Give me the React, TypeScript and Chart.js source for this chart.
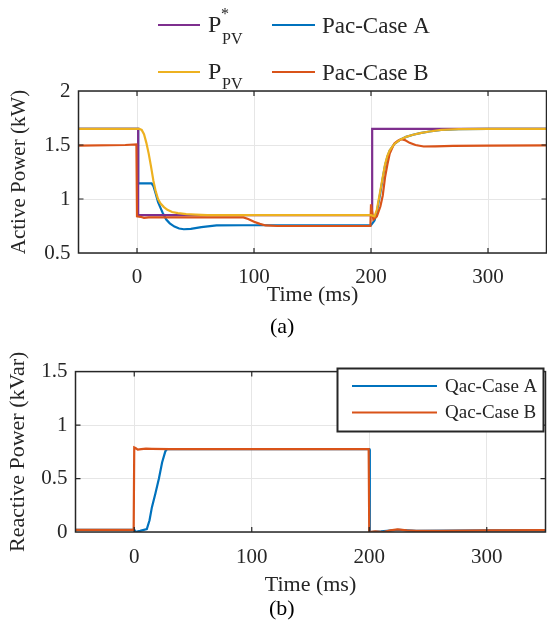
import React, { useEffect, useRef } from "react";
import { Chart, registerables } from "chart.js";

Chart.register(...registerables);

// ---------- data ----------
const xTickValues = [0, 100, 200, 300];
const yTickValuesTop = [0.5, 1, 1.5, 2];
const yTickValuesBottom = [0, 0.5, 1, 1.5];

// P*_PV reference (purple)
const pRefT = [-50, 1, 1, 201, 201, 350];
const pRefV = [1.65, 1.65, 0.85, 0.85, 1.65, 1.65];

// P_PV (yellow)
const pPvT = [-50, 2, 4, 6, 8, 10, 12, 14, 16, 18, 20, 23, 26, 30, 35, 42, 50, 60, 200, 203, 205, 208, 210, 212, 214, 216, 220, 225, 230, 236, 242, 250, 260, 275, 300, 350];
const pPvV = [1.65, 1.65, 1.64, 1.6, 1.52, 1.42, 1.3, 1.17, 1.07, 1.0, 0.96, 0.925, 0.9, 0.88, 0.87, 0.86, 0.855, 0.85, 0.85, 0.84, 0.9, 1.08, 1.2, 1.32, 1.4, 1.45, 1.51, 1.55, 1.575, 1.595, 1.61, 1.625, 1.64, 1.647, 1.65, 1.65];

// Pac - Case A (blue)
const pacAT = [-50, 1, 1, 12.5, 14, 16, 18, 20, 22, 25, 28, 32, 36, 40, 46, 55, 68, 90, 200, 203, 205, 208, 210, 212, 214, 216, 220, 225, 230, 236, 242, 250, 260, 275, 300, 350];
const pacAV = [1.65, 1.65, 1.145, 1.145, 1.12, 1.05, 0.97, 0.92, 0.87, 0.81, 0.775, 0.745, 0.727, 0.72, 0.724, 0.74, 0.755, 0.757, 0.757, 0.8, 0.88, 1.06, 1.19, 1.31, 1.39, 1.45, 1.51, 1.55, 1.575, 1.595, 1.61, 1.625, 1.64, 1.647, 1.65, 1.65];

// Pac - Case B (orange)
const pacBT = [-50, -10, -0.5, 0, 3, 6, 10, 20, 50, 91, 95, 100, 105, 110, 120, 199.5, 200, 202, 205, 208, 210, 212, 214, 216, 218, 220, 223, 226, 229, 233, 238, 245, 255, 270, 300, 350];
const pacBV = [1.495, 1.5, 1.505, 0.84, 0.835, 0.825, 0.83, 0.83, 0.83, 0.83, 0.815, 0.79, 0.77, 0.755, 0.75, 0.75, 0.95, 0.81, 0.84, 0.93, 1.03, 1.2, 1.32, 1.42, 1.47, 1.515, 1.54, 1.553, 1.545, 1.52, 1.5, 1.486, 1.488, 1.492, 1.495, 1.497];

// Qac - Case A (blue)
const qacAT = [-50, 0, 0.5, 5, 10.7, 13, 15, 18, 21, 23.7, 26.5, 28, 40, 200, 200.5, 210, 225, 240, 300, 350];
const qacAV = [0.02, 0.02, 0.0, 0.01, 0.027, 0.11, 0.23, 0.36, 0.5, 0.65, 0.756, 0.775, 0.775, 0.775, 0.0, 0.005, 0.02, 0.01, 0.015, 0.015];

// Qac - Case B (orange)
const qacBT = [-50, -0.5, 0, 1, 3, 6, 10, 15, 30, 100, 199.5, 200, 205, 212, 218, 224, 232, 240, 260, 300, 350];
const qacBV = [0.02, 0.02, 0.79, 0.785, 0.77, 0.775, 0.78, 0.778, 0.775, 0.775, 0.775, 0.0, 0.005, 0.0, 0.015, 0.025, 0.015, 0.01, 0.01, 0.015, 0.018];

// ---------- styles ----------
const FONT = "'Liberation Serif', 'Times New Roman', serif";
const TXT = "#262626";
const BLUE = "#0072BD";
const ORANGE = "#D95319";
const YELLOW = "#EDB120";
const PURPLE = "#7E2F8E";
const GRID = "#e6e6e6";

const TOP_H = 345;
const BOT_TOP = 351;
const BOT_H = 621 - BOT_TOP;

const pts = (t: number[], v: number[]) => t.map((x, i) => ({ x, y: v[i] }));

const framePlugin = {
  id: "frame",
  afterDatasetsDraw(chart: any) {
    const { ctx, chartArea: a, scales } = chart;
    ctx.save();
    ctx.strokeStyle = TXT;
    ctx.lineWidth = 1.5;
    ctx.strokeRect(a.left, a.top, a.right - a.left, a.bottom - a.top);
    ctx.lineWidth = 1.2;
    const tl = 5;
    ctx.beginPath();
    scales.x.ticks.forEach((t: any) => {
      const px = scales.x.getPixelForValue(t.value);
      if (px <= a.left + 1 || px >= a.right - 1) return;
      ctx.moveTo(px, a.bottom);
      ctx.lineTo(px, a.bottom - tl);
      ctx.moveTo(px, a.top);
      ctx.lineTo(px, a.top + tl);
    });
    scales.y.ticks.forEach((t: any) => {
      const py = scales.y.getPixelForValue(t.value);
      if (py <= a.top + 1 || py >= a.bottom - 1) return;
      ctx.moveTo(a.left, py);
      ctx.lineTo(a.left + tl, py);
      ctx.moveTo(a.right, py);
      ctx.lineTo(a.right - tl, py);
    });
    ctx.stroke();
    ctx.restore();
  },
};

const captionPlugin = (text: string, x: number, y: number) => ({
  id: "caption",
  afterDraw(chart: any) {
    const ctx = chart.ctx;
    ctx.save();
    ctx.fillStyle = "#000";
    ctx.font = `22px ${FONT}`;
    ctx.textBaseline = "alphabetic";
    ctx.textAlign = "left";
    ctx.fillText(text, x, y);
    ctx.restore();
  },
});

const topLegendPlugin = {
  id: "topLegend",
  afterDraw(chart: any) {
    const ctx = chart.ctx;
    ctx.save();
    const drawLine = (x1: number, x2: number, y: number, c: string) => {
      ctx.strokeStyle = c;
      ctx.lineWidth = 2;
      ctx.beginPath();
      ctx.moveTo(x1, y);
      ctx.lineTo(x2, y);
      ctx.stroke();
    };
    ctx.fillStyle = TXT;
    ctx.textAlign = "left";
    ctx.textBaseline = "alphabetic";
    // row 1
    drawLine(158, 200, 25, PURPLE);
    ctx.font = `24px ${FONT}`;
    ctx.fillText("P", 208, 32);
    ctx.font = `16px ${FONT}`;
    ctx.fillText("*", 221, 19);
    ctx.fillText("PV", 222, 44);
    drawLine(272, 315, 25, BLUE);
    ctx.font = `23px ${FONT}`;
    ctx.fillText("Pac-Case A", 322, 33);
    // row 2
    drawLine(158, 200, 72, YELLOW);
    ctx.font = `24px ${FONT}`;
    ctx.fillText("P", 208, 79);
    ctx.font = `16px ${FONT}`;
    ctx.fillText("PV", 222, 89);
    drawLine(272, 315, 72, ORANGE);
    ctx.font = `23px ${FONT}`;
    ctx.fillText("Pac-Case B", 322, 80);
    ctx.restore();
  },
};

const bottomLegendPlugin = {
  id: "bottomLegend",
  afterDraw(chart: any) {
    const ctx = chart.ctx;
    const oy = BOT_TOP;
    ctx.save();
    ctx.fillStyle = "#fff";
    ctx.fillRect(337.5, 368.5 - oy, 206, 63);
    ctx.strokeStyle = TXT;
    ctx.lineWidth = 2;
    ctx.strokeRect(337.5, 368.5 - oy, 206, 63);
    const rows = [
      { c: BLUE, t: "Qac-Case A", y: 386 },
      { c: ORANGE, t: "Qac-Case B", y: 412.5 },
    ];
    ctx.font = `19px ${FONT}`;
    ctx.textAlign = "left";
    ctx.textBaseline = "middle";
    rows.forEach((r) => {
      ctx.strokeStyle = r.c;
      ctx.lineWidth = 2;
      ctx.beginPath();
      ctx.moveTo(352, r.y - oy);
      ctx.lineTo(437, r.y - oy);
      ctx.stroke();
      ctx.fillStyle = TXT;
      ctx.fillText(r.t, 445, r.y - oy + 1);
    });
    ctx.restore();
  },
};

const lineDs = (label: string, data: any[], color: string, order: number) => ({
  label,
  data,
  borderColor: color,
  backgroundColor: color,
  borderWidth: 2.2,
  pointRadius: 0,
  tension: 0,
  fill: false,
  order,
});

function axisOpts(
  min: number,
  max: number,
  tickVals: number[],
  title: string,
  isX: boolean,
  size: number,
  tickPad: number,
  titlePad: any,
  titleSize: number
) {
  return {
    type: "linear",
    min,
    max,
    afterBuildTicks: (s: any) => {
      s.ticks = tickVals.map((v) => ({ value: v }));
    },
    afterFit: (s: any) => {
      if (isX) s.height = size;
      else s.width = size;
    },
    grid: { color: GRID, lineWidth: 1, drawTicks: false },
    border: { display: false },
    ticks: {
      font: { family: FONT, size: 21 },
      color: TXT,
      padding: tickPad,
      maxRotation: 0,
      autoSkip: false,
      callback: (v: any) => String(v),
    },
    title: {
      display: true,
      text: title,
      font: { family: FONT, size: titleSize },
      color: TXT,
      padding: titlePad,
    },
  };
}

export default function App() {
  const topRef = useRef<HTMLCanvasElement>(null);
  const botRef = useRef<HTMLCanvasElement>(null);

  useEffect(() => {
    const c1 = new Chart(topRef.current as HTMLCanvasElement, {
      type: "line",
      data: {
        datasets: [
          lineDs("Pac-Case A", pts(pacAT, pacAV), BLUE, 4),
          lineDs("P*PV", pts(pRefT, pRefV), PURPLE, 3),
          lineDs("PPV", pts(pPvT, pPvV), YELLOW, 1),
          lineDs("Pac-Case B", pts(pacBT, pacBV), ORANGE, 2),
        ],
      },
      options: {
        animation: false,
        responsive: false,
        maintainAspectRatio: false,
        layout: { padding: { top: 91, left: 0, right: 0.5, bottom: TOP_H - 253 - 55 } },
        plugins: { legend: { display: false }, tooltip: { enabled: false } },
        scales: {
          x: axisOpts(-50, 350, xTickValues, "Time (ms)", true, 55, 12, { top: 0, bottom: 0 }, 22),
          y: axisOpts(0.5, 2, yTickValuesTop, "Active Power (kW)", false, 78.5, 8, { top: 7, bottom: 0 }, 21),
        },
      } as any,
      plugins: [framePlugin, topLegendPlugin, captionPlugin("(a)", 270, 333)],
    } as any);

    const c2 = new Chart(botRef.current as HTMLCanvasElement, {
      type: "line",
      data: {
        datasets: [
          lineDs("Qac-Case A", pts(qacAT, qacAV), BLUE, 2),
          lineDs("Qac-Case B", pts(qacBT, qacBV), ORANGE, 1),
        ],
      },
      options: {
        animation: false,
        responsive: false,
        maintainAspectRatio: false,
        layout: { padding: { top: 366 - BOT_TOP, left: 0, right: 1.5, bottom: 621 - 532 - 66 } },
        plugins: { legend: { display: false }, tooltip: { enabled: false } },
        scales: {
          x: axisOpts(-50, 350, xTickValues, "Time (ms)", true, 66, 13, { top: 0, bottom: 0 }, 22),
          y: axisOpts(0, 1.5, yTickValuesBottom, "Reactive Power (kVar)", false, 75.5, 8, { top: 5, bottom: 0 }, 22),
        },
      } as any,
      plugins: [framePlugin, bottomLegendPlugin, captionPlugin("(b)", 269, 615 - BOT_TOP)],
    } as any);

    return () => {
      c1.destroy();
      c2.destroy();
    };
  }, []);

  return (
    <div style={{ position: "absolute", left: 0, top: 0, width: 547, height: 621, background: "#fff", overflow: "hidden" }}>
      <canvas
        ref={topRef}
        width={547}
        height={TOP_H}
        style={{ position: "absolute", left: 0, top: 0, width: 547, height: TOP_H }}
      />
      <canvas
        ref={botRef}
        width={547}
        height={BOT_H}
        style={{ position: "absolute", left: 0, top: BOT_TOP, width: 547, height: BOT_H }}
      />
    </div>
  );
}
